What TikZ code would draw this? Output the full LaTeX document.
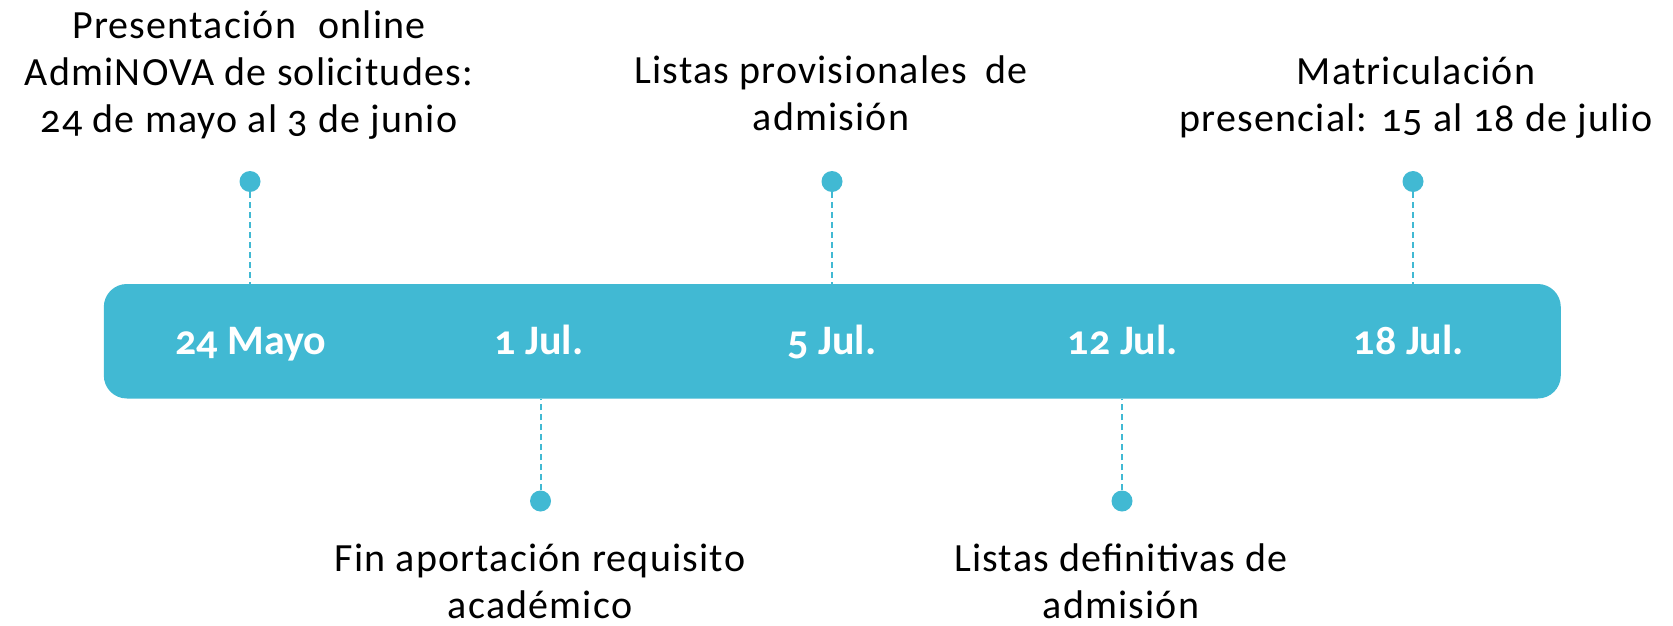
\documentclass[tikz,border=0pt]{standalone}
\usepackage{fontspec}
\setmainfont{Carlito}[Numbers=OldStyle]
\newfontfamily\lblfont{Carlito}[Numbers=OldStyle,LetterSpace=3]
\definecolor{teal}{HTML}{41B9D3}
\tikzset{
  lbl/.style={font=\lblfont\fontsize{40}{47}\selectfont, align=center, text=black, inner sep=0pt, text depth=0pt, anchor=south},
  datelbl/.style={font=\fontsize{42}{48}\selectfont\bfseries, text=white, inner sep=0pt, anchor=base},
  dotmark/.style={circle, fill=teal, minimum size=21pt, inner sep=0pt},
  conn/.style={draw=teal, line width=2pt, dash pattern=on 6pt off 4pt}
}
\begin{document}
\begin{tikzpicture}[x=1pt,y=-1pt]
\useasboundingbox (0,0) rectangle (1673,626);
\node[fill=teal, rounded corners=23pt, minimum width=1457pt, minimum height=114.5pt, inner sep=0pt] (bar) at (832.3,341.25) {};
\node[datelbl] (d1) at (251,354) {24 Mayo};
\node[datelbl] (d2) at (539,354) {1 Jul.};
\node[datelbl] (d3) at (832,354) {5 Jul.};
\node[datelbl] (d4) at (1123,354) {12 Jul.};
\node[datelbl] (d5) at (1409,354) {18 Jul.};
\node[dotmark] (p1) at (250,181.5) {};
\node[dotmark] (p2) at (540.5,501) {};
\node[dotmark] (p3) at (832,181.5) {};
\node[dotmark] (p4) at (1122,501) {};
\node[dotmark] (p5) at (1413,181.5) {};
\coordinate (b1) at (250,284);
\coordinate (b2) at (540.5,398.5);
\coordinate (b3) at (832,284);
\coordinate (b4) at (1122,398.5);
\coordinate (b5) at (1413,284);
\draw[conn] (p1) -- (b1);
\draw[conn] (p2) -- (b2);
\draw[conn] (p3) -- (b3);
\draw[conn] (p4) -- (b4);
\draw[conn] (p5) -- (b5);
\node[lbl] (t1) at (249,133) {Presentación\hspace{0.3em} online\\AdmiNOVA de solicitudes:\\24 de mayo al 3 de junio};
\node[lbl] (t3) at (831,131) {Listas provisionales\hspace{0.2em} de\\admisión};
\node[lbl] (t5) at (1416,132) {Matriculación\\presencial: 15 al 18 de julio};
\node[lbl] (t2) at (540,619) {Fin aportación requisito\\académico};
\node[lbl] (t4) at (1121,619) {Listas definitivas de\\admisión};
\end{tikzpicture}
\end{document}
